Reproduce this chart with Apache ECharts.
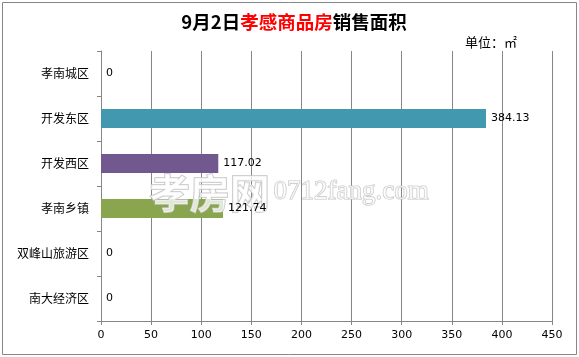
<!DOCTYPE html>
<html><head><meta charset="utf-8">
<script src="https://cdn.jsdelivr.net/npm/echarts@6/dist/echarts.min.js"></script>
<style>html,body{margin:0;padding:0;background:#fff}#c{width:579px;height:357px;}</style>
</head><body><div id="c"></div>
<script>
const categories = ['孝南城区','开发东区','开发西区','孝南乡镇','双峰山旅游区','南大经济区'];
const values = [0, 384.13, 117.02, 121.74, 0, 0];
const barColors = ['#4198AF','#4198AF','#71588F','#89A54E','#4198AF','#4198AF'];
const xTicks = [0,50,100,150,200,250,300,350,400,450];

const chart = echarts.init(document.getElementById('c'), null, {renderer:'canvas'});
const cjk = '"Noto Sans CJK SC", sans-serif';
const num = '"DejaVu Sans", sans-serif';
chart.setOption({
  animation:false,
  backgroundColor:'#fff',
  title:{
    text:'{a|9月2日}{b|孝感商品房}{a|销售面积}',
    left:289, top:8, textAlign:'center',
    textStyle:{rich:{
      a:{fontFamily:cjk,fontSize:18.5,fontWeight:'bold',color:'#000'},
      b:{fontFamily:cjk,fontSize:18.5,fontWeight:'bold',color:'#FF0000'}
    }}
  },
  graphic:[
    {type:'rect',shape:{x:2.5,y:2.5,width:574,height:352},style:{fill:'none',stroke:'#868686',lineWidth:1},silent:true},
    {type:'text',left:465,top:36,style:{text:'单位：㎡',font:'13px "Noto Sans CJK SC"',fill:'#000'}},
    {type:'text',left:149,top:172,z:4,style:{text:'孝房网',font:'bold 40px "Noto Sans CJK SC"',fill:'rgba(255,255,255,0.75)',stroke:'#c4c4c4',lineWidth:1.5}},
    {type:'text',left:273,top:178,z:4,style:{text:'0712fang.com',font:'27px "Liberation Serif"',fill:'rgba(255,255,255,0.75)',stroke:'#c4c4c4',lineWidth:1.2}}
  ],
  grid:{left:101,right:27,top:51,bottom:36,containLabel:false},
  xAxis:{
    type:'value',min:0,max:450,interval:50,
    axisLine:{show:true,lineStyle:{color:'#868686'}},
    axisTick:{show:true,length:4,lineStyle:{color:'#868686'}},
    axisLabel:{color:'#000',fontFamily:num,fontSize:11,margin:9,
      formatter:v=>xTicks.includes(v)?String(v):''},
    splitLine:{show:true,lineStyle:{color:'#868686',width:1}}
  },
  yAxis:{
    type:'category',data:categories,inverse:true,
    axisLine:{show:true,lineStyle:{color:'#868686'}},
    axisTick:{show:true,length:4,alignWithLabel:false,lineStyle:{color:'#868686'}},
    axisLabel:{color:'#000',fontFamily:cjk,fontSize:12,margin:12},
    splitLine:{show:false}
  },
  series:[{
    type:'bar',z:2,
    data:values.map((v,i)=>({value:v,itemStyle:{color:barColors[i]}})),
    barWidth:19
  },{
    type:'bar',z:8,barGap:'-100%',barWidth:19,
    data:values,
    itemStyle:{color:'rgba(0,0,0,0)'},
    label:{show:true,position:'right',distance:5,color:'#000',fontFamily:num,fontSize:11,
      formatter:p=>String(p.value)}
  }]
});
</script></body></html>
